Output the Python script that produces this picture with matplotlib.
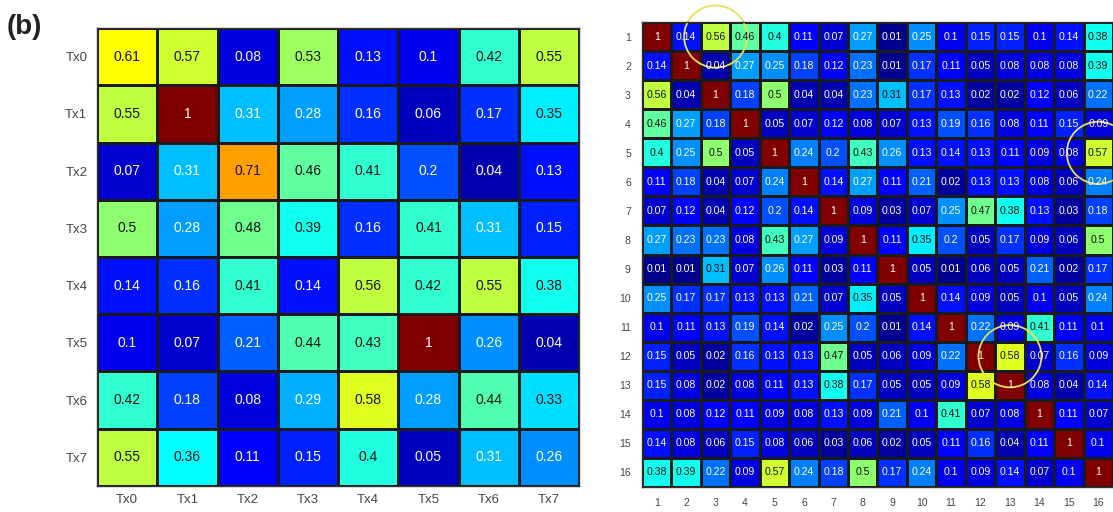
import matplotlib
matplotlib.use("Agg")
import matplotlib.pyplot as plt
from matplotlib.colors import ListedColormap
from matplotlib.patches import Circle
import numpy as np

plt.rcParams['font.family'] = ['Liberation Sans', 'DejaVu Sans']

tx_labels = ["Tx0", "Tx1", "Tx2", "Tx3", "Tx4", "Tx5", "Tx6", "Tx7"]
tx_corr = [
    [0.61, 0.57, 0.08, 0.53, 0.13, 0.1, 0.42, 0.55],
    [0.55, 1, 0.31, 0.28, 0.16, 0.06, 0.17, 0.35],
    [0.07, 0.31, 0.71, 0.46, 0.41, 0.2, 0.04, 0.13],
    [0.5, 0.28, 0.48, 0.39, 0.16, 0.41, 0.31, 0.15],
    [0.14, 0.16, 0.41, 0.14, 0.56, 0.42, 0.55, 0.38],
    [0.1, 0.07, 0.21, 0.44, 0.43, 1, 0.26, 0.04],
    [0.42, 0.18, 0.08, 0.29, 0.58, 0.28, 0.44, 0.33],
    [0.55, 0.36, 0.11, 0.15, 0.4, 0.05, 0.31, 0.26],
]

ant_labels = [str(i) for i in range(1, 17)]
ant_corr = [
    [1, 0.14, 0.56, 0.46, 0.4, 0.11, 0.07, 0.27, 0.01, 0.25, 0.1, 0.15, 0.15, 0.1, 0.14, 0.38],
    [0.14, 1, 0.04, 0.27, 0.25, 0.18, 0.12, 0.23, 0.01, 0.17, 0.11, 0.05, 0.08, 0.08, 0.08, 0.39],
    [0.56, 0.04, 1, 0.18, 0.5, 0.04, 0.04, 0.23, 0.31, 0.17, 0.13, 0.02, 0.02, 0.12, 0.06, 0.22],
    [0.46, 0.27, 0.18, 1, 0.05, 0.07, 0.12, 0.08, 0.07, 0.13, 0.19, 0.16, 0.08, 0.11, 0.15, 0.09],
    [0.4, 0.25, 0.5, 0.05, 1, 0.24, 0.2, 0.43, 0.26, 0.13, 0.14, 0.13, 0.11, 0.09, 0.08, 0.57],
    [0.11, 0.18, 0.04, 0.07, 0.24, 1, 0.14, 0.27, 0.11, 0.21, 0.02, 0.13, 0.13, 0.08, 0.06, 0.24],
    [0.07, 0.12, 0.04, 0.12, 0.2, 0.14, 1, 0.09, 0.03, 0.07, 0.25, 0.47, 0.38, 0.13, 0.03, 0.18],
    [0.27, 0.23, 0.23, 0.08, 0.43, 0.27, 0.09, 1, 0.11, 0.35, 0.2, 0.05, 0.17, 0.09, 0.06, 0.5],
    [0.01, 0.01, 0.31, 0.07, 0.26, 0.11, 0.03, 0.11, 1, 0.05, 0.01, 0.06, 0.05, 0.21, 0.02, 0.17],
    [0.25, 0.17, 0.17, 0.13, 0.13, 0.21, 0.07, 0.35, 0.05, 1, 0.14, 0.09, 0.05, 0.1, 0.05, 0.24],
    [0.1, 0.11, 0.13, 0.19, 0.14, 0.02, 0.25, 0.2, 0.01, 0.14, 1, 0.22, 0.09, 0.41, 0.11, 0.1],
    [0.15, 0.05, 0.02, 0.16, 0.13, 0.13, 0.47, 0.05, 0.06, 0.09, 0.22, 1, 0.58, 0.07, 0.16, 0.09],
    [0.15, 0.08, 0.02, 0.08, 0.11, 0.13, 0.38, 0.17, 0.05, 0.05, 0.09, 0.58, 1, 0.08, 0.04, 0.14],
    [0.1, 0.08, 0.12, 0.11, 0.09, 0.08, 0.13, 0.09, 0.21, 0.1, 0.41, 0.07, 0.08, 1, 0.11, 0.07],
    [0.14, 0.08, 0.06, 0.15, 0.08, 0.06, 0.03, 0.06, 0.02, 0.05, 0.11, 0.16, 0.04, 0.11, 1, 0.1],
    [0.38, 0.39, 0.22, 0.09, 0.57, 0.24, 0.18, 0.5, 0.17, 0.24, 0.1, 0.09, 0.14, 0.07, 0.1, 1],
]

# highlighted cells (row, col), 1-based
highlight = [(1, 3), (5, 16), (12, 13)]


def matlab_jet(n=64):
    # same construction as MATLAB's jet(n)
    m = int(np.ceil(n / 4))
    u = np.concatenate([np.arange(1, m + 1) / m, np.ones(m - 1), np.arange(m, 0, -1) / m])
    g = int(np.ceil(m / 2)) - (n % 4 == 1) + np.arange(1, len(u) + 1)
    r = g + m
    b = g - m
    g = g[g <= n]
    r = r[r <= n]
    b = b[b >= 1]
    J = np.zeros((n, 3))
    J[r - 1, 0] = u[:len(r)]
    J[g - 1, 1] = u[:len(g)]
    J[b - 1, 2] = u[len(u) - len(b):]
    return ListedColormap(J)


cmap = matlab_jet(64)


def heatmap(ax, data, labels, fs_val, fs_tick, dark_from, pad_y, pad_x):
    m = np.array(data, dtype=float)
    n = m.shape[0]
    ax.pcolormesh(np.arange(n + 1), np.arange(n + 1), m, cmap=cmap,
                  vmin=0, vmax=1, edgecolors="#1a1a1a", linewidth=0.8)
    ax.set_xlim(0, n)
    ax.set_ylim(n, 0)
    for i in range(n):
        for j in range(n):
            v = m[i, j]
            txt = "1" if v == 1 else ("%g" % v)
            col = "#111111" if dark_from <= v < 0.75 else "white"
            ax.text(j + 0.5, i + 0.5, txt, ha="center", va="center",
                    fontsize=fs_val, color=col)
    ax.set_xticks(np.arange(n) + 0.5)
    ax.set_yticks(np.arange(n) + 0.5)
    ax.set_xticklabels(labels)
    ax.set_yticklabels(labels)
    ax.tick_params(axis="both", length=0, labelsize=fs_tick, colors="#444444")
    ax.tick_params(axis="y", pad=pad_y)
    ax.tick_params(axis="x", pad=pad_x)
    for s in ax.spines.values():
        s.set_color("#333333")
        s.set_linewidth(1.0)


fig = plt.figure(figsize=(11.13, 5.12), dpi=100)

ax1 = fig.add_axes([0.0872, 0.0508, 0.4331, 0.8945])
heatmap(ax1, tx_corr, tx_labels, 10, 9.5, 0.32, 7, 6)

ax2 = fig.add_axes([0.5768, 0.0488, 0.4232, 0.9082])
heatmap(ax2, ant_corr, ant_labels, 7.6, 7.5, 0.30, 8, 8)

for r, c in highlight:
    ax2.add_patch(Circle((c - 0.5, r - 0.5), 1.07, fill=False,
                         edgecolor="#eadf5a", linewidth=1.3, clip_on=False))

fig.text(0.006, 0.972, "(b)", fontsize=20, fontweight="bold",
         ha="left", va="top", color="#222222")

fig.savefig("out.png", dpi=100)
